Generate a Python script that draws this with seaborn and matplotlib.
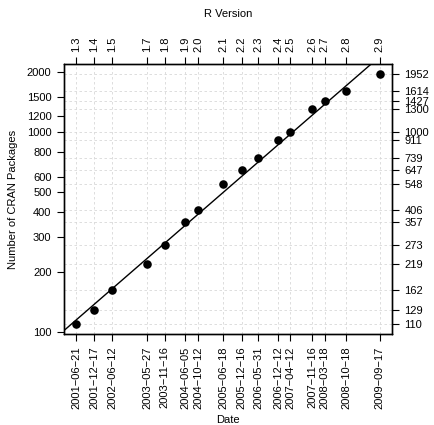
import numpy as np
import pandas as pd
import seaborn as sns
import matplotlib.pyplot as plt
import matplotlib.dates as mdates
from matplotlib.ticker import NullLocator

versions = ["1.3", "1.4", "1.5", "1.7", "1.8", "1.9", "2.0", "2.1",
            "2.2", "2.3", "2.4", "2.5", "2.6", "2.7", "2.8", "2.9"]
release_dates = ["2001-06-21", "2001-12-17", "2002-06-12", "2003-05-27",
                 "2003-11-16", "2004-06-05", "2004-10-12", "2005-06-18",
                 "2005-12-16", "2006-05-31", "2006-12-12", "2007-04-12",
                 "2007-11-16", "2008-03-18", "2008-10-18", "2009-09-17"]
packages = [110, 129, 162, 219, 273, 357, 406, 548,
            647, 739, 911, 1000, 1300, 1427, 1614, 1952]
left_ticks = [100, 200, 300, 400, 500, 600, 800, 1000, 1200, 1500, 2000]

sns.set_style("ticks")
plt.rcParams['font.family'] = ['Liberation Sans', 'DejaVu Sans']
plt.rcParams['font.size'] = 8
plt.rcParams['text.color'] = 'black'
plt.rcParams['axes.labelcolor'] = 'black'
plt.rcParams['xtick.color'] = 'black'
plt.rcParams['ytick.color'] = 'black'

df = pd.DataFrame({'date': pd.to_datetime(release_dates), 'packages': packages})
df['x'] = mdates.date2num(df['date'])

fig = plt.figure(figsize=(4.34, 4.25), dpi=100)
ax = fig.add_axes([64 / 434, 1 - 334 / 425, 328 / 434, 270 / 425])

# R style limits (4% padding), log y
xr = df['x'].max() - df['x'].min()
xlim = (df['x'].min() - 0.04 * xr, df['x'].max() + 0.04 * xr)
ly = np.log10(df['packages'])
lr = ly.max() - ly.min()
ylim = (10 ** (ly.min() - 0.04 * lr), 10 ** (ly.max() + 0.04 * lr))

ax.set_yscale('log')
for x in df['x']:
    ax.axvline(x, color='#d8d8d8', ls=(0, (3, 3)), lw=0.6, zorder=0)
for y in df['packages']:
    ax.axhline(y, color='#d8d8d8', ls=(0, (3, 3)), lw=0.6, zorder=0)

sns.scatterplot(data=df, x='x', y='packages', color='black', s=38,
                edgecolor='black', linewidth=0, ax=ax, zorder=3)

# exponential growth fit
slope, icpt = np.polyfit(df['x'], ly, 1)
xs = np.array(xlim)
ax.plot(xs, 10 ** (slope * xs + icpt), color='black', lw=1, zorder=2)

ax.set_xlim(xlim)
ax.set_ylim(ylim)
ax.set_xticks(df['x'])
ax.set_xticklabels([d.replace('-', '\u2212') for d in release_dates], rotation=90)
ax.set_yticks(left_ticks)
ax.set_yticklabels([str(t) for t in left_ticks])
ax.yaxis.set_minor_locator(NullLocator())
ax.set_xlabel('Date', labelpad=4)
ax.set_ylabel('Number of CRAN Packages', labelpad=6)

top = ax.twiny()
top.set_xlim(xlim)
top.set_xticks(df['x'])
top.set_xticklabels(versions, rotation=90)
top.set_xlabel('R Version', labelpad=14)

right = ax.twinx()
right.set_yscale('log')
right.set_ylim(ylim)
right.set_yticks(packages)
right.set_yticklabels([str(p) for p in packages])
right.yaxis.set_minor_locator(NullLocator())

for a in (ax, top, right):
    a.tick_params(direction='out', length=5, width=0.8, color='black',
                  labelcolor='black', labelsize=8, pad=4)
    for s in a.spines.values():
        s.set_color('black')
        s.set_linewidth(0.9)

fig.savefig('out.png', dpi=100)
